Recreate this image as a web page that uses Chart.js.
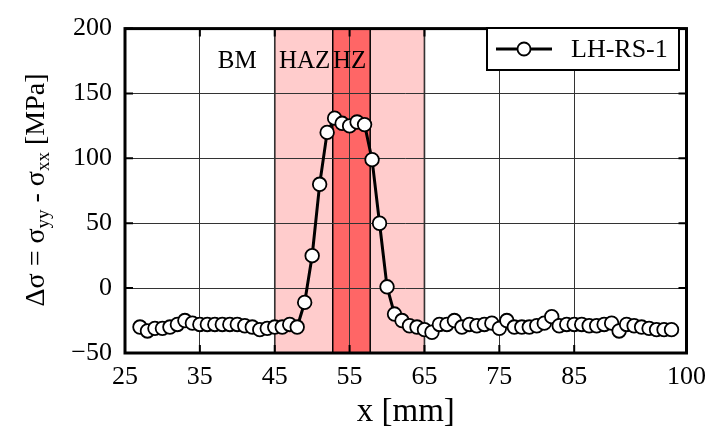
<!DOCTYPE html>
<html>
<head>
<meta charset="utf-8">
<script src="https://cdn.jsdelivr.net/npm/chart.js@4"></script>
<style>
  html, body { margin: 0; padding: 0; background: #fff; }
  #wrap { width: 715px; height: 435px; }
</style>
</head>
<body>
<div id="wrap"><canvas id="stressChart" width="715" height="435"></canvas></div>
<script>
// Measured stress difference along the weld line
const positions = [
  27, 28, 29, 30, 31, 32, 33, 34, 35, 36, 37, 38, 39, 40, 41, 42, 43, 44, 45, 46,
  47, 48, 49, 50, 51, 52, 53, 54, 55, 56, 57, 58, 59, 60, 61, 62, 63, 64, 65, 66,
  67, 68, 69, 70, 71, 72, 73, 74, 75, 76, 77, 78, 79, 80, 81, 82, 83, 84, 85, 86,
  87, 88, 89, 90, 91, 92, 93, 94, 95, 96, 97, 98
];
const stressDiff = [
  -30, -33, -31, -31, -30, -28, -25, -27, -28, -28, -28, -28, -28, -28, -29, -30, -32, -31, -30, -30,
  -28, -30, -11, 25, 80, 120, 131, 127, 125, 128, 126, 99, 50, 1, -20, -25, -29, -30, -32, -34,
  -28, -28, -25, -30, -28, -29, -28, -27, -31, -25, -30, -30, -30, -29, -27, -22, -29, -28, -28, -28,
  -29, -29, -28, -27, -33, -28, -29, -30, -31, -32, -32, -32
];
const seriesLabel = 'LH-RS-1';

// Axis ticks
const xTicks = [25, 35, 45, 55, 65, 75, 85, 100];
const yTicks = [-50, 0, 50, 100, 150, 200];

// Zone boundaries: HAZ | HZ | HAZ
const zoneBounds = [45, 52.75, 57.75, 65];
const zoneLabels = ['BM', 'HAZ', 'HZ'];
const zoneLabelX = [40, 49, 55];

const SERIF = '"Liberation Serif", "DejaVu Serif", serif';

const zonesPlugin = {
  id: 'zones',
  beforeDraw(chart) {
    const { ctx, chartArea: a, scales: { x } } = chart;
    const px = zoneBounds.map(v => x.getPixelForValue(v));
    ctx.save();
    ctx.fillStyle = '#ffcccc';
    ctx.fillRect(px[0], a.top, px[3] - px[0], a.bottom - a.top);
    ctx.fillStyle = '#ff6666';
    ctx.fillRect(px[1], a.top, px[2] - px[1], a.bottom - a.top);
    ctx.strokeStyle = '#000';
    ctx.lineWidth = 1.5;
    px.forEach(p => {
      ctx.beginPath();
      ctx.moveTo(p, a.top);
      ctx.lineTo(p, a.bottom);
      ctx.stroke();
    });
    ctx.restore();
  },
  afterDatasetsDraw(chart) {
    const { ctx, chartArea: a, scales: { x } } = chart;
    ctx.save();
    ctx.fillStyle = '#000';
    ctx.font = '25px ' + SERIF;
    ctx.textAlign = 'center';
    ctx.textBaseline = 'middle';
    zoneLabels.forEach((t, i) => {
      ctx.fillText(t, x.getPixelForValue(zoneLabelX[i]), a.top + 33);
    });
    ctx.restore();
  }
};

const framePlugin = {
  id: 'frame',
  afterDraw(chart) {
    const { ctx, chartArea: a, scales: { x, y } } = chart;
    ctx.save();
    ctx.strokeStyle = '#000';
    // inward tick marks
    ctx.lineWidth = 2;
    xTicks.forEach(v => {
      const p = x.getPixelForValue(v);
      ctx.beginPath();
      ctx.moveTo(p, a.bottom); ctx.lineTo(p, a.bottom - 8);
      ctx.moveTo(p, a.top); ctx.lineTo(p, a.top + 8);
      ctx.stroke();
    });
    yTicks.forEach(v => {
      const p = y.getPixelForValue(v);
      ctx.beginPath();
      ctx.moveTo(a.left, p); ctx.lineTo(a.left + 8, p);
      ctx.moveTo(a.right, p); ctx.lineTo(a.right - 8, p);
      ctx.stroke();
    });
    ctx.lineWidth = 3;
    ctx.strokeRect(a.left, a.top, a.right - a.left, a.bottom - a.top);

    // legend box
    const lx = 487, ly = 28, lw = 192, lh = 42;
    ctx.fillStyle = '#fff';
    ctx.fillRect(lx, ly, lw, lh);
    ctx.lineWidth = 2;
    ctx.strokeRect(lx, ly, lw, lh);
    const cy = ly + lh / 2;
    ctx.lineWidth = 3;
    ctx.beginPath();
    ctx.moveTo(lx + 9, cy); ctx.lineTo(lx + 65, cy);
    ctx.stroke();
    ctx.beginPath();
    ctx.arc(lx + 37, cy, 6.5, 0, Math.PI * 2);
    ctx.fill();
    ctx.lineWidth = 1.8;
    ctx.stroke();
    ctx.fillStyle = '#000';
    ctx.font = '26px ' + SERIF;
    ctx.textAlign = 'left';
    ctx.textBaseline = 'middle';
    ctx.fillText(chart.data.datasets[0].label, lx + 84, cy + 1);

    // y axis title with subscripts
    ctx.translate(44, 190);
    ctx.rotate(-Math.PI / 2);
    const parts = [
      ['Δσ = σ', false], ['yy', true], [' - σ', false], ['xx', true], [' [MPa]', false]
    ];
    const big = '28px ' + SERIF, small = '19px ' + SERIF;
    let total = 0;
    parts.forEach(([t, sub]) => { ctx.font = sub ? small : big; total += ctx.measureText(t).width; });
    let cx = -total / 2;
    ctx.textBaseline = 'alphabetic';
    parts.forEach(([t, sub]) => {
      ctx.font = sub ? small : big;
      ctx.fillText(t, cx, sub ? 5 : 0);
      cx += ctx.measureText(t).width;
    });
    ctx.restore();
  }
};

new Chart(document.getElementById('stressChart'), {
  type: 'line',
  data: {
    labels: positions,
    datasets: [{
      label: seriesLabel,
      data: positions.map((p, i) => ({ x: p, y: stressDiff[i] })),
      borderColor: '#000',
      borderWidth: 3,
      pointBackgroundColor: '#fff',
      pointBorderColor: '#000',
      pointBorderWidth: 1.8,
      pointRadius: 6.8,
      tension: 0,
      fill: false
    }]
  },
  options: {
    responsive: false,
    animation: false,
    devicePixelRatio: 1,
    layout: { padding: { left: 0, top: 18, right: 28, bottom: 0 } },
    plugins: {
      legend: { display: false },
      tooltip: { enabled: false }
    },
    scales: {
      x: {
        type: 'linear',
        min: 25,
        max: 100,
        afterBuildTicks(scale) { scale.ticks = xTicks.map(v => ({ value: v })); },
        afterFit(scale) { scale.height = 82; },
        grid: { color: '#333', lineWidth: 1, drawTicks: false },
        border: { display: false },
        ticks: {
          color: '#000',
          font: { family: SERIF, size: 26 },
          padding: 9,
          maxRotation: 0,
          autoSkip: false
        },
        title: {
          display: true,
          text: 'x [mm]',
          color: '#000',
          font: { family: SERIF, size: 33 },
          padding: { top: 4, bottom: 3 }
        }
      },
      y: {
        min: -50,
        max: 200,
        afterBuildTicks(scale) { scale.ticks = yTicks.map(v => ({ value: v })); },
        afterFit(scale) { scale.width = 125; },
        grid: { color: '#333', lineWidth: 1, drawTicks: false },
        border: { display: false },
        ticks: {
          color: '#000',
          font: { family: SERIF, size: 26 },
          padding: 13,
          callback: v => (v < 0 ? '\u2212' + Math.abs(v) : String(v))
        }
      }
    }
  },
  plugins: [zonesPlugin, framePlugin]
});
</script>
</body>
</html>
